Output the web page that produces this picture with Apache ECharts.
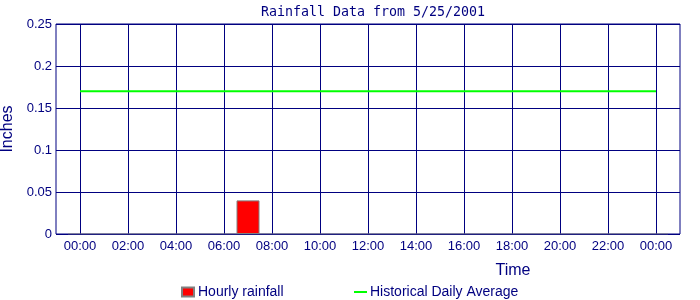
<!DOCTYPE html>
<html>
<head>
<meta charset="utf-8">
<script src="https://cdn.jsdelivr.net/npm/echarts@6/dist/echarts.min.js"></script>
<style>html,body{margin:0;padding:0;background:#fff;}#c{width:700px;height:300px;}</style>
</head>
<body>
<div id="c"></div>
<script>
// Data (hours of day)
var rainHours = [7];
var rainValues = [0.04];
var avgHours = [0, 24];
var avgValues = [0.17, 0.17];
var baselineHours = [-0.5, 24.5];
var yTicks = [0, 0.05, 0.1, 0.15, 0.2, 0.25];
var xTickHours = [0, 2, 4, 6, 8, 10, 12, 14, 16, 18, 20, 22, 24];

function pad(n){ return (n < 10 ? '0' : '') + n; }
function hourLabel(h){ return pad(((h % 24) + 24) % 24) + ':00'; }

var navy = '#000080';
var chart = echarts.init(document.getElementById('c'));
chart.setOption({
  animation: false,
  backgroundColor: '#ffffff',
  title: {
    text: 'Rainfall Data from 5/25/2001',
    left: 368, textAlign: 'center', top: 1,
    textStyle: { fontFamily: 'DejaVu Sans Mono', fontSize: 13.3, fontWeight: 'normal', color: navy }
  },
  grid: { left: 56, right: 20, top: 24, bottom: 66, outerBoundsMode: 'none', containLabel: false,
          show: true, borderColor: navy, borderWidth: 1, backgroundColor: '#fff' },
  legend: [
    { data: [{ name: 'Hourly rainfall', icon: 'rect' }], left: 181, top: 285, padding: 0, itemWidth: 12, itemHeight: 9, itemGap: 4,
      textStyle: { fontFamily: 'Liberation Sans', fontSize: 14, color: navy, padding: [0,0,0,-1] } },
    { data: [{ name: 'Historical Daily Average', icon: 'rect' }], left: 354, top: 285, padding: 0, itemWidth: 13, itemHeight: 2, itemGap: 4,
      textStyle: { fontFamily: 'Liberation Sans', fontSize: 14, color: navy, padding: [0,0,0,-2] } }
  ],
  xAxis: {
    type: 'value', min: -1, max: 25, interval: 1,
    name: 'Time', nameLocation: 'middle', nameGap: 29,
    nameTextStyle: { fontFamily: 'Liberation Sans', fontSize: 16, color: navy, padding: [0,0,0,290] },
    axisLine: { show: false },
    axisTick: { show: false },
    axisLabel: {
      margin: 6, fontFamily: 'Liberation Sans', fontSize: 13, color: navy,
      showMinLabel: false, showMaxLabel: false,
      formatter: function(v){ return xTickHours.indexOf(v) >= 0 ? hourLabel(v) : ''; }
    },
    splitLine: { show: true, lineStyle: { color: ['rgba(0,0,0,0)', navy], width: 1 } }
  },
  yAxis: {
    type: 'value', min: 0, max: 0.25, interval: 0.05,
    name: 'Inches', nameLocation: 'middle', nameGap: 40,
    nameTextStyle: { fontFamily: 'Liberation Sans', fontSize: 16, color: navy },
    axisLine: { show: false },
    axisTick: { show: false },
    axisLabel: {
      margin: 4, fontFamily: 'Liberation Sans', fontSize: 13, color: navy,
      formatter: function(v){ var r = Math.round(v * 100) / 100; return yTicks.indexOf(r) >= 0 ? String(r) : ''; }
    },
    splitLine: { show: true, lineStyle: { color: navy, width: 1 } }
  },
  series: [
    {
      name: 'baseline', type: 'line', silent: true, symbol: 'none', z: 3,
      lineStyle: { color: '#808080', width: 1 },
      data: baselineHours.map(function(h){ return [h, 0]; })
    },
    {
      name: 'Hourly rainfall', type: 'bar', barWidth: 23, z: 4,
      itemStyle: { color: '#ff0000', borderColor: '#808080', borderWidth: 1, borderRadius: 0 },
      data: rainHours.map(function(h, i){ return [h, rainValues[i]]; })
    },
    {
      name: 'Historical Daily Average', type: 'line', symbol: 'none', z: 5,
      color: '#00ff00',
      itemStyle: { color: '#00ff00' },
      lineStyle: { color: '#00ff00', width: 2 },
      data: avgHours.map(function(h, i){ return [h, avgValues[i]]; })
    }
  ]
});
</script>
</body>
</html>
